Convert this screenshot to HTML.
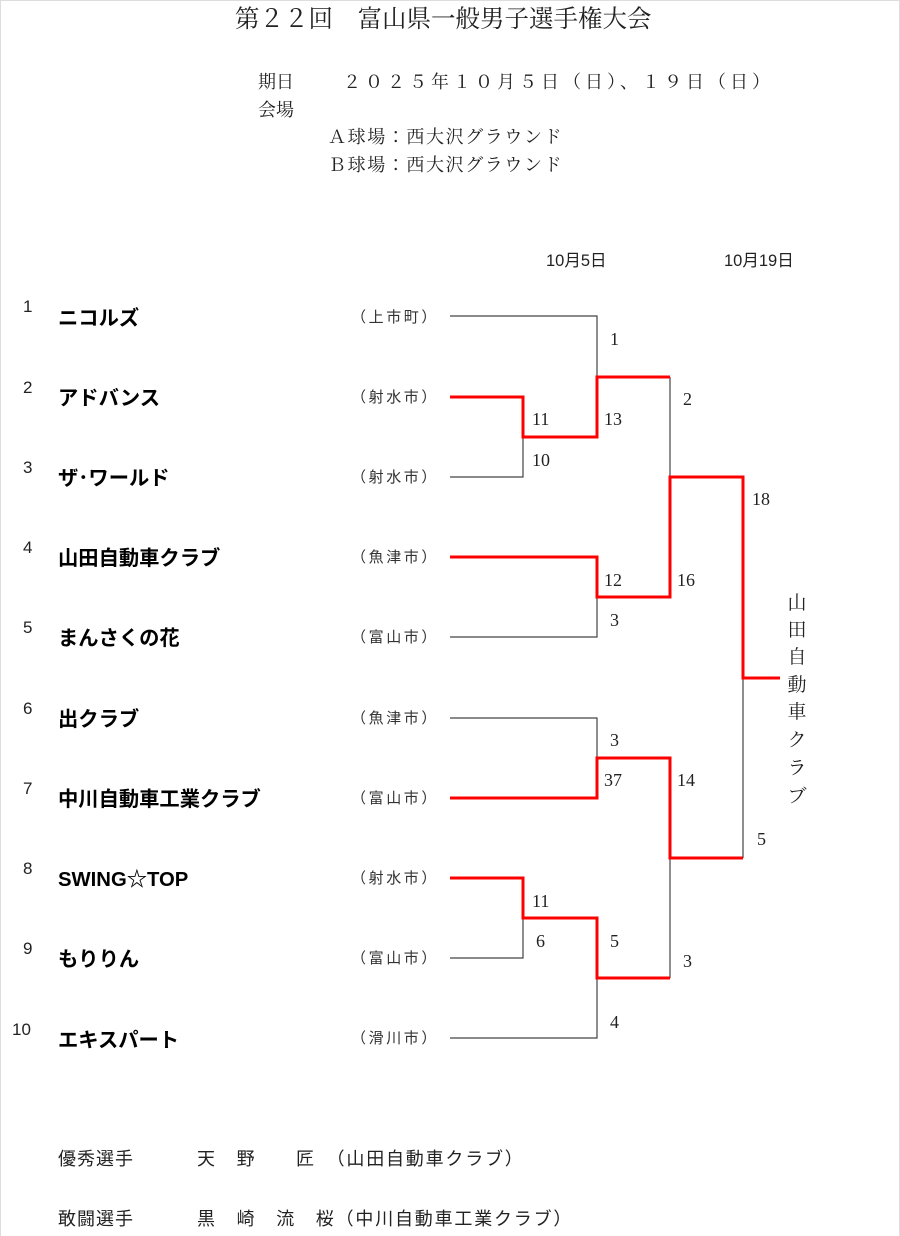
<!DOCTYPE html>
<html><head><meta charset="utf-8"><style>
html,body{margin:0;padding:0;background:#fff}
svg{display:block}
.t{font-family:"Liberation Serif","Noto Serif CJK JP",serif;fill:#222}
.s{font-family:"Liberation Sans","Noto Sans CJK JP",sans-serif;fill:#222}
.n{font-family:"Liberation Sans","Noto Sans CJK JP",sans-serif;font-weight:bold;font-size:20.3px;fill:#000}
.c{font-family:"Liberation Sans","Noto Sans CJK JP",sans-serif;font-size:15px;letter-spacing:2.6px;fill:#333}
.i{font-family:"Liberation Sans",sans-serif;font-size:17px;fill:#222}
.sc{font-family:"Liberation Serif",serif;font-size:18px;fill:#222}
</style></head><body>
<svg width="900" height="1236" viewBox="0 0 900 1236" xmlns="http://www.w3.org/2000/svg">
<rect x="0.5" y="0.5" width="899" height="1240" fill="none" stroke="#ddd"/>
<text class="t" x="235" y="27" font-size="24.5">第２２回　富山県一般男子選手権大会</text>
<text class="t" x="258" y="88" font-size="18">期日</text>
<text class="t" x="343" y="88" font-size="18" letter-spacing="4">２０２５年１０月５日（日）、１９日（日）</text>
<text class="t" x="258" y="116" font-size="18">会場</text>
<text class="t" x="328" y="143" font-size="18" letter-spacing="1.6">Ａ球場：西大沢グラウンド</text>
<text class="t" x="328" y="171" font-size="18" letter-spacing="1.6">Ｂ球場：西大沢グラウンド</text>
<text class="s" x="546" y="266" font-size="16.5">10月5日</text>
<text class="s" x="724" y="266" font-size="16.5">10月19日</text>

<g>
<text class="i" x="23" y="312">1</text><text class="n" x="58" y="325">ニコルズ</text><text class="c" x="351" y="322">（上市町）</text>
<text class="i" x="23" y="393">2</text><text class="n" x="58" y="405">アドバンス</text><text class="c" x="351" y="402">（射水市）</text>
<text class="i" x="23" y="473">3</text><text class="n" x="58" y="485">ザ･ワールド</text><text class="c" x="351" y="482">（射水市）</text>
<text class="i" x="23" y="553">4</text><text class="n" x="58" y="565">山田自動車クラブ</text><text class="c" x="351" y="562">（魚津市）</text>
<text class="i" x="23" y="633">5</text><text class="n" x="58" y="645">まんさくの花</text><text class="c" x="351" y="642">（富山市）</text>
<text class="i" x="23" y="714">6</text><text class="n" x="58" y="726">出クラブ</text><text class="c" x="351" y="723">（魚津市）</text>
<text class="i" x="23" y="794">7</text><text class="n" x="58" y="806">中川自動車工業クラブ</text><text class="c" x="351" y="803">（富山市）</text>
<text class="i" x="23" y="874">8</text><text class="n" x="58" y="886" font-weight="normal">SWING☆TOP</text><text class="c" x="351" y="883">（射水市）</text>
<text class="i" x="23" y="954">9</text><text class="n" x="58" y="966">もりりん</text><text class="c" x="351" y="963">（富山市）</text>
<text class="i" x="12" y="1035">10</text><text class="n" x="58" y="1047">エキスパート</text><text class="c" x="351" y="1043">（滑川市）</text>
</g>

<g fill="none" stroke="#444" stroke-width="1.2">
<path d="M450 316H597V437"/>
<path d="M523 437V477H450"/>
<path d="M670 377V477"/>
<path d="M597 597V637H450"/>
<path d="M450 718H597V758"/>
<path d="M523 918V958H450"/>
<path d="M597 978V1038H450"/>
<path d="M670 858V978"/>
<path d="M743 678V858"/>
</g>
<g fill="none" stroke="#f00" stroke-width="3">
<path d="M450 397H523V437H597V377H670"/>
<path d="M450 557H597V597H670V477H743V678H780"/>
<path d="M450 798H597V758H670V858H743"/>
<path d="M450 878H523V918H597V978H670"/>
</g>

<g class="sc">
<text x="610" y="345">1</text>
<text x="532" y="425">11</text><text x="604" y="425">13</text>
<text x="532" y="466">10</text>
<text x="683" y="405">2</text>
<text x="752" y="505">18</text>
<text x="604" y="586">12</text><text x="677" y="586">16</text>
<text x="610" y="626">3</text>
<text x="610" y="746">3</text>
<text x="604" y="786">37</text><text x="677" y="786">14</text>
<text x="757" y="845">5</text>
<text x="532" y="907">11</text>
<text x="536" y="947">6</text><text x="610" y="947">5</text>
<text x="683" y="967">3</text>
<text x="610" y="1028">4</text>
</g>

<g class="t" font-size="19" text-anchor="middle">
<text x="797" y="609">山</text><text x="797" y="636">田</text><text x="797" y="663">自</text>
<text x="797" y="691">動</text><text x="797" y="718">車</text><text x="797" y="746">ク</text>
<text x="797" y="774">ラ</text><text x="797" y="802">ブ</text>
</g>

<text class="s" x="58" y="1165" font-size="18" letter-spacing="1" fill="#333">優秀選手</text>
<text class="s" x="197" y="1165" font-size="18" letter-spacing="1.8" fill="#333">天　野　　匠　（山田自動車クラブ）</text>
<text class="s" x="58" y="1225" font-size="18" letter-spacing="1" fill="#333">敢闘選手</text>
<text class="s" x="197" y="1225" font-size="18" letter-spacing="1.8" fill="#333">黒　崎　流　桜（中川自動車工業クラブ）</text>
</svg>
</body></html>
